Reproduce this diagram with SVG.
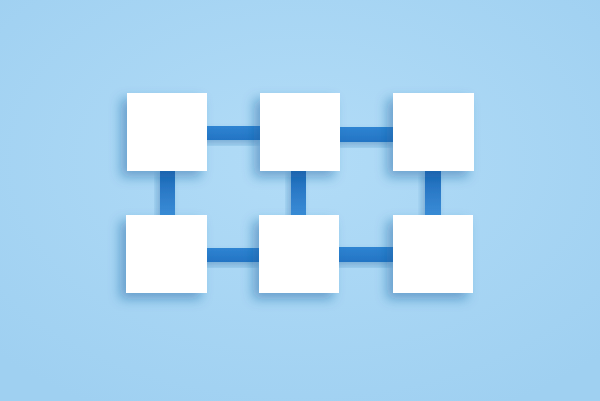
<svg xmlns="http://www.w3.org/2000/svg" width="600" height="401" viewBox="0 0 600 401">
<defs>
<radialGradient id="bg" cx="50%" cy="40%" r="70%">
<stop offset="0" stop-color="#b2dcf7"/>
<stop offset="1" stop-color="#9fd0f1"/>
</radialGradient>
<linearGradient id="hbar" x1="0" y1="0" x2="0" y2="1">
<stop offset="0" stop-color="#2f84d2"/>
<stop offset="1" stop-color="#2374c4"/>
</linearGradient>
<linearGradient id="vbar" x1="0" y1="0" x2="0" y2="1">
<stop offset="0" stop-color="#1d68b8"/>
<stop offset="1" stop-color="#3b8ed8"/>
</linearGradient>
<filter id="sh" x="-40%" y="-40%" width="180%" height="180%">
<feDropShadow dx="-6" dy="6" stdDeviation="6" flood-color="#1d5f9e" flood-opacity="0.45"/>
</filter>
<filter id="bsh" x="-40%" y="-40%" width="180%" height="180%">
<feDropShadow dx="-3" dy="4" stdDeviation="3" flood-color="#1d5f9e" flood-opacity="0.35"/>
</filter>
</defs>
<style>
.box{fill:#ffffff;filter:url(#sh)}
.h{fill:url(#hbar);filter:url(#bsh)}
.v{fill:url(#vbar);filter:url(#bsh)}
</style>
<rect width="600" height="401" fill="url(#bg)"/>
<g id="connectors">
<rect class="h" x="205" y="126" width="57" height="14"/>
<rect class="h" x="338" y="127" width="57" height="15"/>
<rect class="h" x="205" y="248" width="56" height="14"/>
<rect class="h" x="337" y="247" width="58" height="15"/>
<rect class="v" x="160" y="169" width="15" height="48"/>
<rect class="v" x="291" y="169" width="15" height="48"/>
<rect class="v" x="425" y="169" width="16" height="48"/>
</g>
<g id="n1"><rect class="box" x="127" y="93" width="80" height="78"/></g>
<g id="n2"><rect class="box" x="260" y="93" width="80" height="78"/></g>
<g id="n3"><rect class="box" x="393" y="93" width="81" height="78"/></g>
<g id="n4"><rect class="box" x="126" y="215" width="81" height="78"/></g>
<g id="n5"><rect class="box" x="259" y="215" width="80" height="78"/></g>
<g id="n6"><rect class="box" x="393" y="215" width="80" height="78"/></g>
</svg>
